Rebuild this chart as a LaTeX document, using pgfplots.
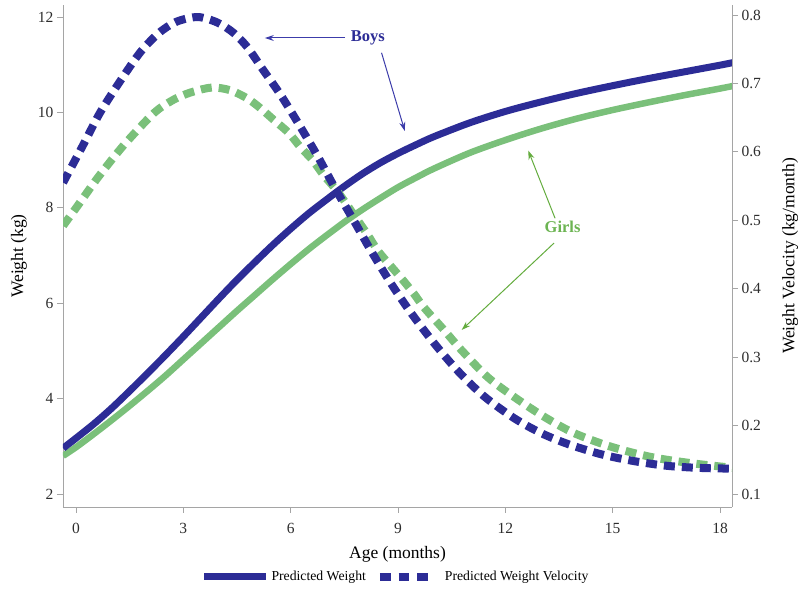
\documentclass[border=0pt]{standalone}
\usepackage{fontspec}
\setmainfont{Liberation Serif}
\usepackage{pgfplots}
\pgfplotsset{compat=1.18}
\usetikzlibrary{arrows.meta}
\definecolor{cblue}{RGB}{44,44,150}
\definecolor{cgreen}{RGB}{122,192,122}
\definecolor{cblueA}{RGB}{60,60,170}
\definecolor{cgreenA}{RGB}{100,172,62}
\definecolor{cgreenT}{RGB}{108,180,82}
\definecolor{axgray}{RGB}{165,165,165}
\definecolor{txt}{RGB}{45,45,45}
\pgfplotsset{
  solidleg/.style={legend image code/.code={\draw[cblue, line width=7pt] (0pt,0pt) -- (62pt,0pt); \path (64pt,0pt);}},
  dashleg/.style={legend image code/.code={\draw[cblue, line width=8pt, dash pattern=on 10.7pt off 8pt] (0pt,0pt) -- (48.1pt,0pt); \path (59pt,0pt);}},
}
\begin{document}
\begin{tikzpicture}
\useasboundingbox (-63pt,-94pt) rectangle (737pt,507pt);
\begin{axis}[
  scale only axis, width=669pt, height=502pt,
  xmin=-0.363, xmax=18.335, ymin=1.7275, ymax=12.2516,
  axis x line*=bottom, axis y line*=left,
  axis line style={axgray, line width=0.9pt, -},
  xtick={0,3,6,9,12,15,18}, ytick={2,4,6,8,10,12},
  tick style={axgray, line width=0.9pt}, tick align=outside, major tick length=6pt,
  ticklabel style={font=\fontsize{15.5}{17}\selectfont, text=txt},
  xticklabel style={yshift=-7pt},
  /pgf/number format/assume math mode=true,
  xlabel={Age (months)}, ylabel={Weight (kg)},
  label style={font=\fontsize{17.5}{20}\selectfont, text=black},
  xlabel style={at={(axis description cs:0.5,-0.094)}, anchor=center},
  ylabel style={at={(axis description cs:-0.066,0.5)}, anchor=center},
]
\addplot[cgreen, line width=6.5pt, smooth] table {
x y
-0.36 2.80
0 2.98
0.5 3.26
1 3.55
1.5 3.85
2 4.16
2.5 4.48
3 4.82
3.5 5.16
4 5.50
4.5 5.84
5 6.17
5.5 6.50
6 6.82
6.5 7.13
7 7.42
7.5 7.70
8 7.96
8.5 8.20
9 8.43
9.5 8.63
10 8.82
11 9.15
12 9.42
13 9.66
14 9.87
15 10.05
16 10.21
17 10.36
18 10.50
18.4 10.56
};
\addplot[cblue, line width=7pt, smooth] table {
x y
-0.36 2.96
0 3.17
0.5 3.47
1 3.80
1.5 4.16
2 4.53
2.5 4.91
3 5.30
3.5 5.70
4 6.10
4.5 6.49
5 6.86
5.5 7.22
6 7.56
6.5 7.88
7 8.17
7.5 8.45
8 8.71
8.5 8.94
9 9.14
9.5 9.32
10 9.49
11 9.78
12 10.02
13 10.22
14 10.40
15 10.56
16 10.71
17 10.85
18 10.99
18.4 11.05
};
\node[font=\fontsize{16.5}{18}\selectfont\bfseries, text=cblue] at (axis cs:8.16,11.56) {Boys};
\draw[-{Stealth[length=9pt,width=6pt]}, cblueA, line width=1pt] (axis cs:7.52,11.56) -- (axis cs:5.28,11.56);
\draw[-{Stealth[length=9pt,width=6pt]}, cblueA, line width=1pt] (axis cs:8.54,11.25) -- (axis cs:9.19,9.61);
\node[font=\fontsize{16.5}{18}\selectfont\bfseries, text=cgreenT] at (axis cs:13.6,7.60) {Girls};
\draw[-{Stealth[length=9pt,width=6pt]}, cgreenA, line width=1pt] (axis cs:13.39,7.78) -- (axis cs:12.64,9.20);
\draw[-{Stealth[length=9pt,width=6pt]}, cgreenA, line width=1pt] (axis cs:13.36,7.26) -- (axis cs:10.78,5.44);
\end{axis}
\begin{axis}[
  scale only axis, width=669pt, height=502pt,
  xmin=-0.363, xmax=18.335, ymin=0.081, ymax=0.8146,
  axis x line=none, axis y line*=right,
  axis line style={axgray, line width=0.9pt, -},
  ytick={0.1,0.2,0.3,0.4,0.5,0.6,0.7,0.8},
  yticklabel style={/pgf/number format/fixed, /pgf/number format/precision=1, /pgf/number format/fixed zerofill},
  tick style={axgray, line width=0.9pt}, tick align=outside, major tick length=6pt,
  ticklabel style={font=\fontsize{15.5}{17}\selectfont, text=txt},
  /pgf/number format/assume math mode=true,
  ylabel={Weight Velocity (kg/month)},
  label style={font=\fontsize{17.5}{20}\selectfont, text=black},
  ylabel style={at={(axis description cs:1.087,0.5)}, anchor=center},
  legend style={at={(axis description cs:0.497,-0.139)}, anchor=center, legend columns=2, draw=none, fill=none,
    font=\fontsize{13.7}{15}\selectfont, /tikz/every even column/.append style={column sep=8pt}},
]
\addlegendimage{solidleg}
\addlegendentry{Predicted Weight}
\addplot[cgreen, line width=8pt, dash pattern=on 11pt off 7pt, smooth, forget plot] table {
x y
-0.36 0.492
0.03 0.520
0.62 0.563
1.29 0.607
1.99 0.647
2.35 0.664
2.83 0.679
3.28 0.688
3.81 0.694
4.31 0.690
4.79 0.678
5.15 0.664
5.52 0.647
5.94 0.628
6.27 0.607
6.61 0.588
6.92 0.566
7.31 0.542
7.82 0.504
8.15 0.479
8.43 0.456
8.80 0.433
9.13 0.413
9.44 0.393
9.72 0.373
10.28 0.340
10.76 0.311
11.5 0.271
12.24 0.242
13.08 0.213
13.92 0.189
14.96 0.169
16.08 0.154
17.2 0.145
18.4 0.138
};
\addplot[cblue, line width=8pt, dash pattern=on 11pt off 7pt, smooth, dashleg] table {
x y
-0.36 0.555
0.20 0.610
0.67 0.657
1.23 0.703
1.79 0.745
2.30 0.773
2.80 0.790
3.40 0.797
3.95 0.789
4.40 0.774
4.79 0.753
5.20 0.722
5.71 0.684
6.22 0.641
6.75 0.594
7.25 0.546
7.76 0.500
8.24 0.456
8.80 0.408
9.36 0.365
10.0 0.321
10.67 0.280
11.4 0.243
12.24 0.211
13.0 0.189
13.75 0.173
14.68 0.158
15.6 0.148
16.55 0.141
17.48 0.138
18.4 0.137
};
\addlegendentry{Predicted Weight Velocity}
\end{axis}
\end{tikzpicture}
\end{document}
